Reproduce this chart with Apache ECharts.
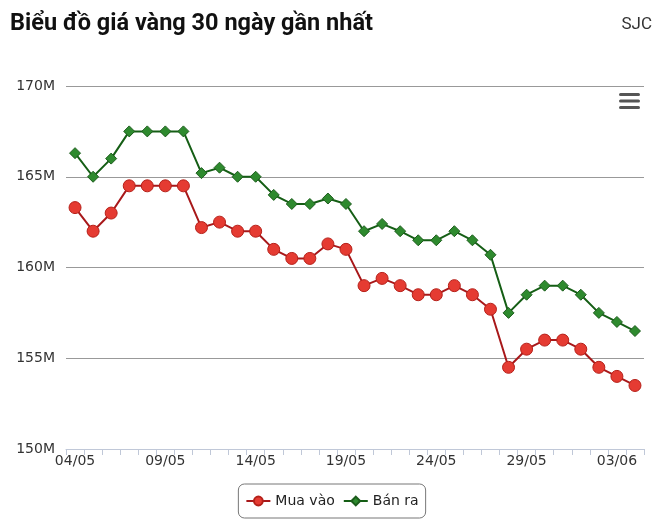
<!DOCTYPE html>
<html>
<head>
<meta charset="utf-8">
<script src="https://cdn.jsdelivr.net/npm/echarts@6/dist/echarts.min.js"></script>
<style>
	html, body { margin: 0; padding: 0; background: #fff; }
	#chart { width: 664px; height: 528px; }
</style>
</head>
<body>
<div id="chart"></div>
<script>
// ngày (category)
var dates = ['04/05', '05/05', '06/05', '07/05', '08/05', '09/05', '10/05', '11/05',
	'12/05', '13/05', '14/05', '15/05', '16/05', '17/05', '18/05', '19/05',
	'20/05', '21/05', '22/05', '23/05', '24/05', '25/05', '26/05', '27/05',
	'28/05', '29/05', '30/05', '31/05', '01/06', '02/06', '03/06', '04/06'];

// giá mua vào (triệu)
var muaVao = [163.3, 162.0, 163.0, 164.5, 164.5, 164.5, 164.5, 162.2,
	162.5, 162.0, 162.0, 161.0, 160.5, 160.5, 161.3, 161.0,
	159.0, 159.4, 159.0, 158.5, 158.5, 159.0, 158.5, 157.7,
	154.5, 155.5, 156.0, 156.0, 155.5, 154.5, 154.0, 153.5];

// giá bán ra (triệu)
var banRa = [166.3, 165.0, 166.0, 167.5, 167.5, 167.5, 167.5, 165.2,
	165.5, 165.0, 165.0, 164.0, 163.5, 163.5, 163.8, 163.5,
	162.0, 162.4, 162.0, 161.5, 161.5, 162.0, 161.5, 160.7,
	157.5, 158.5, 159.0, 159.0, 158.5, 157.5, 157.0, 156.5];

var yMin = 150, yMax = 170, yStep = 5;

var myChart = echarts.init(document.getElementById('chart'));

var option = {
	animation: false,
	title: [{
		text: 'Biểu đồ giá vàng 30 ngày gần nhất',
		left: 5,
		top: 7,
		textStyle: { fontFamily: 'Roboto', fontWeight: 'bold', fontSize: 23.5, color: '#111' }
	}, {
		text: 'SJC',
		right: 7,
		top: 11,
		textStyle: { fontFamily: 'Roboto', fontWeight: 'normal', fontSize: 17, color: '#333' }
	}],
	legend: {
		data: ['Mua vào', 'Bán ra'],
		left: 'center',
		bottom: 10,
		borderColor: '#777',
		borderWidth: 1,
		borderRadius: 6,
		padding: [10, 7, 10, 7],
		itemGap: 8,
		itemWidth: 24,
		itemHeight: 11,
		textStyle: { fontFamily: 'DejaVu Sans', fontSize: 14, color: '#222' }
	},
	grid: {
		left: 66,
		right: 20,
		top: 86,
		bottom: 79,
		containLabel: false
	},
	xAxis: {
		type: 'category',
		data: dates,
		boundaryGap: true,
		axisLine: { lineStyle: { color: '#c0c8d8' } },
		axisTick: { show: true, interval: 0, length: 6, lineStyle: { color: '#c0c8d8' } },
		axisLabel: {
			interval: 4,
			margin: 5,
			fontFamily: 'DejaVu Sans',
			fontSize: 14,
			color: '#333'
		},
		splitLine: { show: false }
	},
	yAxis: {
		type: 'value',
		min: yMin,
		max: yMax,
		interval: yStep,
		axisLine: { show: false },
		axisTick: { show: false },
		axisLabel: {
			margin: 11,
			fontFamily: 'DejaVu Sans',
			fontSize: 14,
			color: '#333',
			formatter: function (v) { return v + 'M'; }
		},
		splitLine: { lineStyle: { color: '#999', width: 1 } }
	},
	series: [{
		name: 'Mua vào',
		type: 'line',
		data: muaVao,
		symbol: 'circle',
		symbolSize: 12,
		itemStyle: { color: '#e53b32', borderColor: '#b52019', borderWidth: 1 },
		lineStyle: { color: '#a8181a', width: 2 }
	}, {
		name: 'Bán ra',
		type: 'line',
		data: banRa,
		symbol: 'diamond',
		symbolSize: 11,
		itemStyle: { color: '#2e8a2e', borderColor: '#1c5c1c', borderWidth: 1 },
		lineStyle: { color: '#155e15', width: 2 }
	}],
	graphic: [{
		type: 'group',
		left: 619,
		top: 93,
		children: [
			{ type: 'rect', shape: { x: 0, y: 0, width: 21, height: 3, r: 1.5 }, style: { fill: '#555' } },
			{ type: 'rect', shape: { x: 0, y: 6.5, width: 21, height: 3, r: 1.5 }, style: { fill: '#555' } },
			{ type: 'rect', shape: { x: 0, y: 13, width: 21, height: 3, r: 1.5 }, style: { fill: '#555' } }
		]
	}]
};

myChart.setOption(option);
window.addEventListener('resize', function () {
	myChart.resize();
});
</script>
</body>
</html>
